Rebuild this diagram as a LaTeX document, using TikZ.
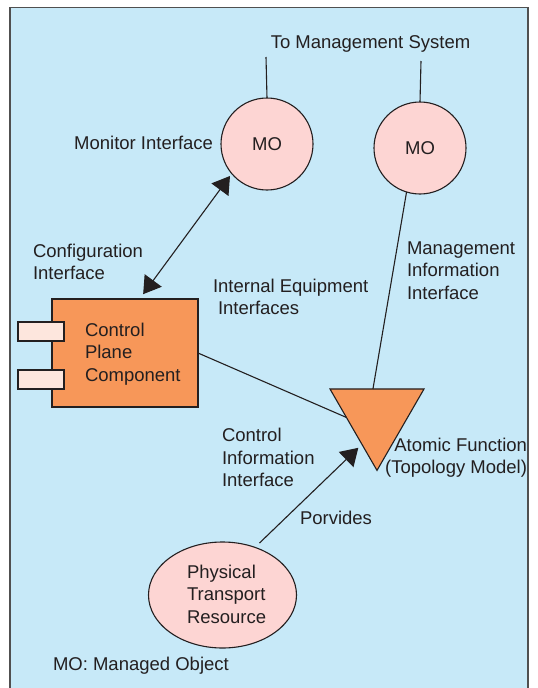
\documentclass[tikz,border=0pt]{standalone}
\usepackage{fontspec}
\setmainfont{Liberation Sans}
\usetikzlibrary{arrows.meta,shapes.geometric,calc}

\definecolor{panelblue}{RGB}{199,233,248}
\definecolor{moPink}{RGB}{253,213,211}
\definecolor{compOrange}{RGB}{247,151,89}
\definecolor{portPink}{RGB}{253,230,221}
\definecolor{ink}{RGB}{35,31,32}
\definecolor{frameGray}{RGB}{80,80,80}

\begin{document}
\begin{tikzpicture}[x=1pt,y=-1pt,
  every node/.style={font=\fontsize{18.5}{22.5}\selectfont, text=ink},
  txt/.style={inner sep=0pt, outer sep=0pt, align=left},
  mobj/.style={circle, draw=ink, line width=1.1pt, fill=moPink,
    minimum size=92pt, inner sep=0pt, outer sep=0pt},
  cpbox/.style={rectangle, draw=ink, line width=1.1pt, fill=compOrange,
    minimum width=146pt, minimum height=108pt, inner sep=0pt, outer sep=0pt},
  portbox/.style={rectangle, draw=ink, line width=1.1pt, fill=portPink,
    minimum width=46pt, minimum height=19pt, inner sep=0pt, outer sep=0pt},
  atomic/.style={regular polygon, regular polygon sides=3,
    shape border rotate=180, draw=ink, line width=1.1pt, fill=compOrange,
    minimum size=108.6pt, inner sep=0pt, outer sep=0pt},
  resource/.style={ellipse, draw=ink, line width=1.1pt, fill=moPink,
    minimum width=148pt, minimum height=106pt, inner sep=0pt, outer sep=0pt},
  wire/.style={draw=ink, line width=1.1pt},
  bigtip/.style={-{Triangle[length=17pt,width=21pt]}},
  bothtips/.style={{Triangle[length=17pt,width=21pt]}-{Triangle[length=17pt,width=21pt]}}
]
\useasboundingbox (0,0) rectangle (538,688);

% panel
\fill[panelblue] (10,7.5) rectangle (528,700);
\draw[frameGray, line width=1.5pt] (10,700) -- (10,7.5) -- (528,7.5) -- (528,700);

% managed objects
\node[mobj] (mo1) at (267,144) {MO};
\node[mobj] (mo2) at (420,148) {MO};
\coordinate (mo1-up) at (266,57);
\coordinate (mo2-up) at (421,61);
\draw[wire] (mo1.north) -- (mo1-up);
\draw[wire] (mo2.north) -- (mo2-up);
\node[txt] (mgmt) at (370.5,43.5) {To Management System};

% control plane component
\node[cpbox] (cpc) at (125,353) {};
\node[portbox] (port1) at (41,331.5) {};
\node[portbox] (port2) at (41,379.5) {};
\node[txt, anchor=west] (cpc-label) at (85,354) {Control\\Plane\\Component};

% atomic function
\node[atomic] (af) at (377,416.1) {};

% physical transport resource
\node[resource] (prt) at (222.5,595) {};
\node[txt, anchor=west] (prt-label) at (187,594) {Physical\\Transport\\Resource};

% connectors
\draw[wire, bothtips, shorten <=6pt, shorten >=3pt]
  ($(cpc.north west)!0.6!(cpc.north east)$) -- (mo1.220);
\draw[wire] (cpc.east) -- ($(af.corner 3)!0.35!(af.corner 1)$);
\draw[wire] (mo2.253) -- ($(af.corner 3)!0.457!(af.corner 2)$);
\draw[wire, bigtip, shorten >=5pt]
  ($(prt.north)+(37,1)$) -- ($(af.corner 3)!0.68!(af.corner 1)$);

% labels
\node[txt, anchor=east] (lbl-mon) at (213,143) {Monitor Interface};
\node[txt, anchor=west] (lbl-cfg) at (33,262) {Configuration\\Interface};
\node[txt, anchor=west] (lbl-int) at (213,297) {Internal Equipment\\\hspace*{5pt}Interfaces};
\node[txt, anchor=west] (lbl-mgi) at (407,270.5) {Management\\Information\\Interface};
\node[txt, anchor=east, align=right] (lbl-af) at (527,457.5)
  {Atomic Function\\(Topology Model)};
\node[txt, anchor=west] (lbl-cii) at (222,457.5) {Control\\Information\\Interface};
\node[txt, anchor=west] (lbl-prov) at (300,518) {Porvides};
\node[txt, anchor=west] (lbl-key) at (53,666) {MO: Managed Object};
\end{tikzpicture}
\end{document}
